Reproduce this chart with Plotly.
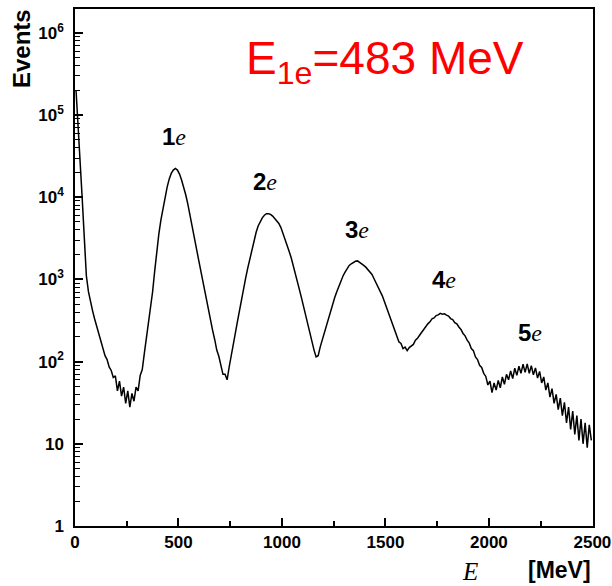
import plotly.graph_objects as go

# Energy spectrum of multi-electron events, 10 MeV bins (bin centres in MeV)
bin_width = 10
energy_mev = [bin_width * i + bin_width / 2 for i in range(250)]

events = [
    200000, 79000, 28000, 9500, 3200, 1100, 710, 525, 415, 330,
    270, 225, 176, 150, 118, 106, 86, 78, 64, 67,
    44, 58, 38, 49, 31, 44, 28, 41, 33, 49,
    44, 68, 80, 126, 190, 288, 427, 708, 1260, 2240,
    3550, 5250, 7240, 9770, 13200, 16600, 19500, 21400, 22400, 21400,
    19100, 16200, 13500, 10700, 8320, 6310, 4570, 3390, 2510, 1860,
    1380, 1070, 794, 575, 398, 302, 240, 186, 138, 116,
    86, 70, 70, 60, 86, 115, 158, 224, 309, 427,
    603, 794, 1050, 1380, 1780, 2340, 2950, 3720, 4470, 5130,
    5620, 6030, 6310, 6310, 6170, 5890, 5500, 5130, 4790, 4270,
    3630, 3160, 2690, 2190, 1820, 1480, 1170, 933, 741, 589,
    457, 355, 275, 214, 166, 138, 114, 118, 151, 186,
    224, 269, 331, 407, 501, 603, 708, 832, 955, 1100,
    1230, 1350, 1480, 1550, 1620, 1660, 1680, 1620, 1550, 1480,
    1410, 1320, 1260, 1150, 1020, 912, 813, 724, 631, 537,
    457, 389, 331, 282, 240, 204, 174, 166, 144, 150,
    136, 148, 155, 162, 182, 192, 209, 226, 251, 266,
    288, 305, 331, 340, 363, 370, 386, 378, 382, 368,
    358, 334, 324, 298, 288, 264, 246, 220, 206, 182,
    168, 144, 136, 114, 106, 90, 85, 72, 66, 52,
    58, 42, 55, 45, 59, 48, 65, 53, 70, 60,
    77, 62, 83, 68, 88, 72, 93, 74, 94, 72,
    89, 69, 84, 63, 76, 55, 65, 45, 55, 37,
    47, 31, 40, 26, 36, 22, 32, 18, 28, 15,
    25, 13, 22, 11, 20, 10, 18, 9, 17, 11,
]

# Peak labels: position (MeV, log10 events) and text
peak_x = [479, 919, 1364, 1785, 2200]
peak_y = [4.74, 4.19, 3.61, 3.00, 2.36]
peak_n = ["1", "2", "3", "4", "5"]

x_tick_vals = [0, 500, 1000, 1500, 2000, 2500]
x_minor_vals = [250, 750, 1250, 1750, 2250]
y_tick_vals = [1, 10, 100, 1000, 10000, 100000, 1000000]
y_tick_text = ["1", "10", "10<sup>2</sup>", "10<sup>3</sup>", "10<sup>4</sup>",
               "10<sup>5</sup>", "10<sup>6</sup>"]
y_minor_vals = [m * 10 ** d for d in range(6) for m in range(2, 10)]

W, H = 612, 586
L, R, T, B = 75, 19, 9, 60


def px_to_paper(px, py):
    """Pixel position in the page to paper coordinates of the plot area."""
    return (px - L) / (W - L - R), (H - B - py) / (H - T - B)


fig = go.Figure()
fig.add_trace(go.Scatter(
    x=energy_mev, y=events, mode="lines",
    line=dict(color="black", width=1.5),
    showlegend=False, hoverinfo="skip",
))

for px, py, n in zip(peak_x, peak_y, peak_n):
    fig.add_annotation(
        x=px, y=py, xref="x", yref="y", showarrow=False,
        xanchor="center", yanchor="middle",
        text=f"<b>{n}</b><i><span style='font-family:Liberation Serif'>e</span></i>",
        font=dict(family="Liberation Sans", size=24, color="black"),
    )

ax, ay = px_to_paper(385, 62)
fig.add_annotation(
    x=ax, y=ay, xref="paper", yref="paper", showarrow=False,
    xanchor="center", yanchor="middle",
    text="E<sub>1e</sub>=483 MeV",
    font=dict(family="Liberation Sans", size=46, color="#ff0000"),
)

ax, ay = px_to_paper(22, 49)
fig.add_annotation(
    x=ax, y=ay, xref="paper", yref="paper", showarrow=False,
    xanchor="center", yanchor="middle",
    text="<b>Events</b>", textangle=-90,
    font=dict(family="Liberation Sans", size=24, color="black"),
)

# Axis title split into an italic symbol and a bold unit
ax, ay = px_to_paper(470, 571)
fig.add_annotation(
    x=ax, y=ay, xref="paper", yref="paper", showarrow=False,
    xanchor="center", yanchor="middle",
    text="<i>E</i>",
    font=dict(family="Liberation Serif", size=25, color="black"),
)
ax, ay = px_to_paper(559, 570)
fig.add_annotation(
    x=ax, y=ay, xref="paper", yref="paper", showarrow=False,
    xanchor="center", yanchor="middle",
    text="<b>[MeV]</b>",
    font=dict(family="Liberation Sans", size=23, color="black"),
)

axis_font = dict(family="Liberation Sans", size=17, color="black")

fig.update_xaxes(
    range=[0, 2503], showline=True, linecolor="black", linewidth=1.5,
    mirror=True, ticks="inside", ticklen=8, tickwidth=1.5, tickcolor="black",
    tickvals=x_tick_vals, ticktext=[f"<b>{v}</b>" for v in x_tick_vals],
    tickfont=axis_font, showgrid=False, zeroline=False, automargin=False,
    minor=dict(ticks="inside", tickvals=x_minor_vals, ticklen=5,
               tickwidth=1.5, tickcolor="black", showgrid=False),
)
fig.update_yaxes(
    type="log", range=[0, 6.29], showline=True, linecolor="black",
    linewidth=1.5, mirror=True, ticks="inside", ticklen=8, tickwidth=1.5,
    tickcolor="black", tickvals=y_tick_vals,
    ticktext=[f"<b>{t}</b>" for t in y_tick_text],
    tickfont=axis_font, showgrid=False, zeroline=False, automargin=False,
    ticklabelstandoff=6,
    minor=dict(ticks="inside", tickvals=y_minor_vals, ticklen=5,
               tickwidth=1.2, tickcolor="black", showgrid=False),
)

fig.update_layout(
    width=W, height=H,
    margin=dict(l=L, r=R, t=T, b=B, autoexpand=False),
    paper_bgcolor="white", plot_bgcolor="white",
)

fig.write_html("out.html")
